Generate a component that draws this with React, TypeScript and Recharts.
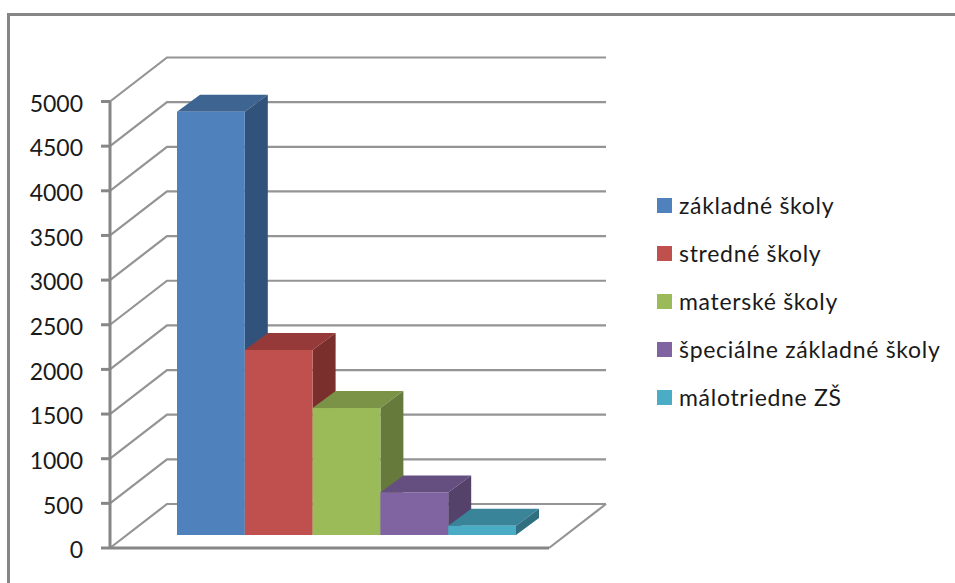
import React from "react";
import { BarChart, Bar, XAxis, YAxis, CartesianGrid, Legend } from "recharts";

const seriesNames = ["základné školy", "stredné školy", "materské školy", "špeciálne základné školy", "málotriedne ZŠ"];
const seriesValues = [4740, 2072, 1422, 477, 104];
const frontColors = ["#4F81BD", "#C0504D", "#9BBB59", "#8064A2", "#4BACC6"];
const topColors = ["#3E6491", "#953A38", "#7A9347", "#654E80", "#3A8499"];
const sideColors = ["#31527A", "#7A2F2D", "#667A3C", "#54426B", "#306F80"];
const yTicks = [0, 500, 1000, 1500, 2000, 2500, 3000, 3500, 4000, 4500, 5000];
const category = "";

const row: Record<string, string | number> = { category };
seriesNames.forEach((n, i) => (row[n] = seriesValues[i]));
const rows = [row];

const FONT = "Lato, 'Open Sans', sans-serif";
const AXIS = "#868686";
const GRID = "#949494";
const WALL_DX = 57;
const WALL_DY = -44;
const BAR_DX = 17;
const BAR_DY = -13;
const DEPTH_X = 23;
const DEPTH_Y = -17;

const makeBox = (i: number) => (p: any) => {
  const x = p.x + BAR_DX;
  const y = p.y + BAR_DY;
  const w = p.width;
  const h = p.height;
  return (
    <g>
      <polygon
        points={`${x},${y} ${x + DEPTH_X},${y + DEPTH_Y} ${x + w + DEPTH_X},${y + DEPTH_Y} ${x + w},${y}`}
        fill={topColors[i]}
      />
      <polygon
        points={`${x + w},${y} ${x + w + DEPTH_X},${y + DEPTH_Y} ${x + w + DEPTH_X},${y + h + DEPTH_Y} ${x + w},${y + h}`}
        fill={sideColors[i]}
      />
      <rect x={x} y={y} width={w} height={h} fill={frontColors[i]} />
    </g>
  );
};

const gridLine = (p: any) => {
  const { x1, x2, y1 } = p;
  const isFloor = Math.abs(y1 - 548) < 1;
  return (
    <g key={p.key ?? y1}>
      <path
        d={`M${x1},${y1} L${x1 + WALL_DX},${y1 + WALL_DY} L${x2 + WALL_DX},${y1 + WALL_DY}`}
        fill="none"
        stroke={GRID}
        strokeWidth={2.2}
      />
      {isFloor && (
        <line
          x1={x2}
          y1={y1}
          x2={x2 + WALL_DX}
          y2={y1 + WALL_DY}
          stroke={GRID}
          strokeWidth={2.2}
        />
      )}
    </g>
  );
};

const LegendBox = () => (
  <div style={{ fontFamily: FONT, fontSize: 23, letterSpacing: 0.7, color: "#1a1a1a" }}>
    {seriesNames.map((n, i) => (
      <div key={n} style={{ display: "flex", alignItems: "center", height: 48, whiteSpace: "nowrap" }}>
        <span style={{ width: 15, height: 15, background: frontColors[i], marginRight: 7, flex: "none" }} />
        <span>{n}</span>
      </div>
    ))}
  </div>
);

export default function App() {
  return (
    <div style={{ position: "absolute", left: 0, top: 0, width: 955, height: 583, background: "#fff", overflow: "hidden" }}>
      <div style={{ position: "absolute", left: 7, top: 13, width: 950, height: 580, borderLeft: `3px solid ${AXIS}`, borderTop: `3px solid ${AXIS}` }} />
      <div style={{ position: "absolute", left: 0, top: 0 }}>
        <BarChart
          width={955}
          height={583}
          data={rows}
          margin={{ top: 101.5, right: 111, bottom: 0, left: 0 }}
          barSize={67.8}
          barGap={0}
        >
          <CartesianGrid vertical={false} horizontal={gridLine} />
          <XAxis
            dataKey="category"
            tick={false}
            tickLine={false}
            height={35}
            axisLine={{ stroke: AXIS, strokeWidth: 3 }}
          />
          <YAxis
            width={110}
            domain={[0, 5000]}
            ticks={yTicks}
            interval={0}
            tickSize={9}
            tickMargin={18}
            axisLine={{ stroke: AXIS, strokeWidth: 3 }}
            tickLine={{ stroke: AXIS, strokeWidth: 3 }}
            tick={{ fill: "#1a1a1a", fontFamily: FONT, fontSize: 23, dy: 2 }}
          />
          <Legend
            layout="vertical"
            align="right"
            verticalAlign="top"
            wrapperStyle={{ left: 657, right: "auto", top: 181, width: 295 }}
            content={() => <LegendBox />}
          />
          {seriesNames.map((n, i) => (
            <Bar key={n} dataKey={n} isAnimationActive={false} shape={makeBox(i)} />
          ))}
        </BarChart>
      </div>
    </div>
  );
}
